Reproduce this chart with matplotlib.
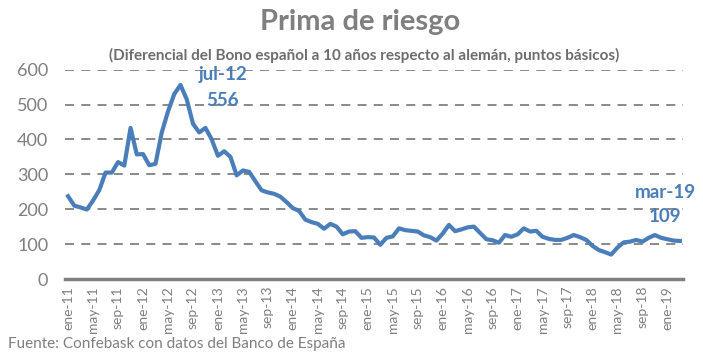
import matplotlib
matplotlib.use("Agg")
import matplotlib.pyplot as plt

# Monthly spread values, ene-11 .. mar-19
values = [
    237, 210, 205, 199, 225, 255, 305, 305, 335, 325, 433, 357,   # 2011
    358, 326, 330, 420, 480, 530, 556, 515, 445, 420, 433, 400,   # 2012
    353, 366, 350, 297, 311, 307, 280, 254, 248, 244, 236, 220,   # 2013
    203, 195, 170, 163, 158, 144, 158, 150, 128, 136, 137, 118,   # 2014
    120, 119, 98, 118, 122, 145, 140, 138, 136, 125, 120, 110,    # 2015
    130, 155, 137, 142, 148, 150, 132, 114, 111, 104, 126, 121,   # 2016
    128, 145, 136, 138, 121, 115, 112, 112, 118, 126, 120, 112,   # 2017
    95, 83, 77, 70, 90, 105, 107, 112, 107, 118, 126, 118,        # 2018
    114, 110, 109,                                                # 2019
]
month_abbr = ["ene", "feb", "mar", "abr", "may", "jun",
              "jul", "ago", "sep", "oct", "nov", "dic"]
labels = [f"{month_abbr[i % 12]}-{11 + i // 12}" for i in range(len(values))]
tick_idx = list(range(0, len(values), 4))
yticks = [0, 100, 200, 300, 400, 500, 600]

title = "Prima de riesgo"
subtitle = "(Diferencial del Bono español a 10 años respecto al alemán, puntos básicos)"
source = "Fuente: Confebask con datos del Banco de España"

plt.rcParams['font.family'] = ['Lato', 'DejaVu Sans']
gray = "#7f7f7f"
blue = "#4a7ebb"

fig = plt.figure(figsize=(7.03, 3.54), dpi=100)
ax = fig.add_axes([65/703, 1-279/354, 618/703, (279-69.6)/354])

x = list(range(len(values)))
ax.plot(x, values, color=blue, lw=3.0, solid_joinstyle='round', zorder=3)

ax.set_xlim(-0.5, len(values) - 0.5)
ax.set_ylim(0, 600)
ax.set_yticks(yticks)
ax.set_yticklabels([str(v) for v in yticks], fontsize=13, color=gray)
ax.set_xticks(tick_idx)
ax.set_xticklabels([labels[i] for i in tick_idx], rotation=90, fontsize=10, color=gray)
ax.tick_params(axis='both', length=0)
ax.tick_params(axis='y', pad=12)
ax.tick_params(axis='x', pad=5)

for v in yticks[1:]:
    ax.axhline(v, color="#808080", lw=1.3, ls=(0, (5, 4)), zorder=1)

for s in ["top", "right", "left"]:
    ax.spines[s].set_visible(False)
ax.spines["bottom"].set_color("#808080")
ax.spines["bottom"].set_linewidth(2.5)

# annotations
imax = values.index(max(values))
ax.text(imax + 6.8, 585, labels[imax], color=blue, fontsize=13.5, fontweight='bold',
        ha='center', va='center')
ax.text(imax + 6.8, 512, str(values[imax]), color=blue, fontsize=13.5, fontweight='bold',
        ha='center', va='center')
ilast = len(values) - 1
ax.text(ilast - 2.3, 248, labels[ilast], color=blue, fontsize=13.5, fontweight='bold',
        ha='center', va='center')
ax.text(ilast - 2.3, 178, str(values[ilast]), color=blue, fontsize=13.5, fontweight='bold',
        ha='center', va='center')

fig.text(360/703, 1-22/354, title, ha='center', va='center', fontsize=21,
         fontweight='bold', color=gray)
fig.text(364/703, 1-55/354, subtitle, ha='center', va='center', fontsize=11,
         fontweight='bold', color="#6d6d6d")
fig.text(8/703, 1-344/354, source, ha='left', va='center', fontsize=11, color=gray)

fig.savefig("out.png", dpi=100)
